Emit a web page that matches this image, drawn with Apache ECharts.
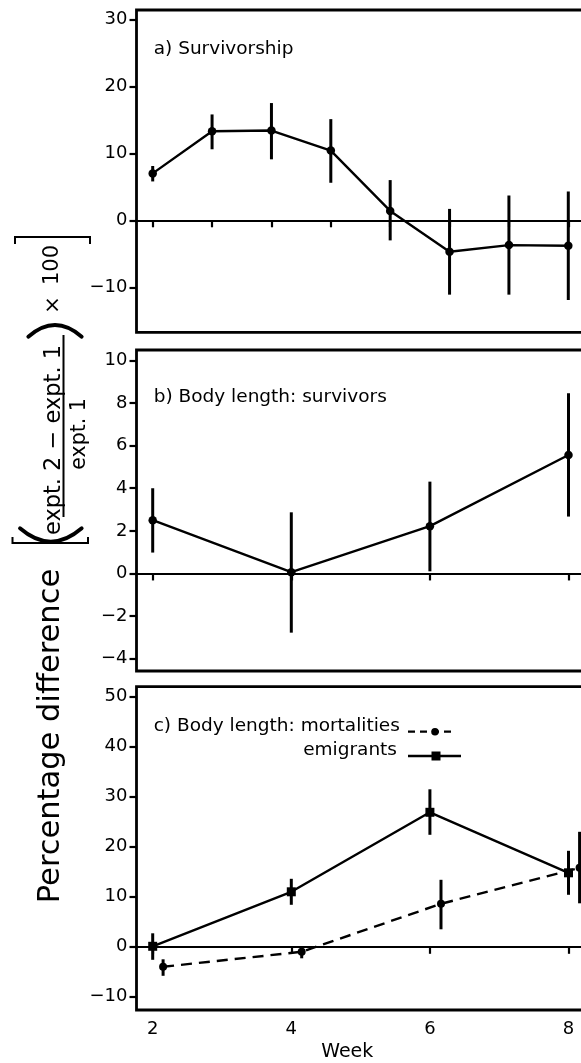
<!DOCTYPE html>
<html><head><meta charset="utf-8">
<script src="https://cdn.jsdelivr.net/npm/echarts@6/dist/echarts.min.js"></script>
<style>html,body{margin:0;padding:0;background:#fff}#c{width:581px;height:1063px}</style>
</head><body><div id="c"></div>
<script>
// ---- Panel a: survivorship (8 sampling occasions between weeks 2 and 8)
const survIndex = [1, 2, 3, 4, 5, 6, 7, 8];
const survMean  = [7.0, 13.3, 13.4, 10.4, 1.4, -4.7, -3.7, -3.8];
const survLow   = [5.8, 10.6, 9.1, 5.6, -3.0, -11.1, -11.1, -11.9];
const survHigh  = [8.1, 15.8, 17.5, 15.1, 6.0, 1.7, 3.7, 4.3];
// ---- Panel b: body length of survivors
const survivorWeeks = [2, 4, 6, 8];
const survivorMean  = [2.5, 0.06, 2.22, 5.56];
const survivorLow   = [0.98, -2.78, 0.10, 2.67];
const survivorHigh  = [4.0, 2.87, 4.31, 8.46];
// ---- Panel c: body length of emigrants and mortalities
const emigrantWeeks = [2, 4, 6, 8];
const emigrantMean  = [0.1, 11.0, 26.9, 14.8];
const emigrantLow   = [-2.6, 8.4, 22.4, 10.4];
const emigrantHigh  = [2.7, 13.6, 31.5, 19.2];
const mortalityWeeks = [2.15, 4.15, 6.16, 8.16];
const mortalityMean  = [-4.0, -1.0, 8.6, 15.8];
const mortalityLow   = [-5.8, -2.3, 3.5, 8.7];
const mortalityHigh  = [-2.5, -0.3, 13.4, 23.0];
// ---- Tick values
const weekTicks = [2, 4, 6, 8];
const yTicksA = [-10, 0, 10, 20, 30];
const yTicksB = [-4, -2, 0, 2, 4, 6, 8, 10];
const yTicksC = [-10, 0, 10, 20, 30, 40, 50];

const FONT = 'DejaVu Sans';
const fmt = v => (v < 0 ? '\u2212' + Math.abs(v) : String(v));

function gridCfg(top, height) {
  return { left: 136.5, width: 464.5, top: top, height: height, show: true,
    borderColor: '#000', borderWidth: 2.8, backgroundColor: 'transparent',
    containLabel: false, outerBoundsMode: 'none' };
}
function xCfg(gi, min, max, ticks, showLabels) {
  const o = { gridIndex: gi, type: 'value', min: min, max: max,
    axisLine: { show: false }, splitLine: { show: false },
    axisTick: { show: true, length: 7, lineStyle: { color: '#000', width: 2.2 }, customValues: ticks },
    axisLabel: { show: !!showLabels, customValues: ticks, color: '#000', fontFamily: FONT, fontSize: 18, margin: 10,
      formatter: v => String(v) } };
  if (showLabels) {
    o.name = 'Week'; o.nameLocation = 'middle'; o.nameGap = 33;
    o.nameTextStyle = { fontFamily: FONT, fontSize: 19, color: '#000', padding: [0, 43, 0, 0] };
  }
  return o;
}
function yCfg(gi, min, max, ticks) {
  return { gridIndex: gi, type: 'value', min: min, max: max,
    axisLine: { show: false }, splitLine: { show: false },
    axisTick: { show: true, length: 7, lineStyle: { color: '#000', width: 2.2 }, customValues: ticks },
    axisLabel: { customValues: ticks, color: '#000', fontFamily: FONT, fontSize: 18, margin: 9, formatter: fmt } };
}
function errRender(params, api) {
  const x = api.value(0);
  const lo = api.coord([x, api.value(1)]);
  const hi = api.coord([x, api.value(2)]);
  return { type: 'line', shape: { x1: lo[0], y1: lo[1], x2: hi[0], y2: hi[1] },
    style: { stroke: '#000', lineWidth: 3 } };
}
function errSeries(gi, xs, lows, highs) {
  return { type: 'custom', xAxisIndex: gi, yAxisIndex: gi, renderItem: errRender,
    encode: { x: 0, y: [1, 2] }, z: 4, silent: true,
    data: xs.map((x, i) => [x, lows[i], highs[i]]) };
}
const zeroLine = { silent: true, symbol: ['none', 'none'], label: { show: false },
  lineStyle: { color: '#000', width: 2.2, type: 'solid' }, data: [{ yAxis: 0 }], animation: false };
function lineSeries(gi, name, xs, ys, opts) {
  return Object.assign({ type: 'line', name: name, xAxisIndex: gi, yAxisIndex: gi,
    data: xs.map((x, i) => [x, ys[i]]), symbol: 'circle', symbolSize: 8.5,
    itemStyle: { color: '#000' }, lineStyle: { color: '#000', width: 2.4 }, z: 3, silent: true }, opts || {});
}

const txt = (t, x, y, size, align, rot) => ({ type: 'text', x: x, y: y, rotation: rot || 0, silent: true,
  style: { text: t, font: size + 'px "' + FONT + '"', fill: '#000',
    align: align || 'left', verticalAlign: 'middle', textAlign: align || 'left', textVerticalAlign: 'middle' } });
const R = Math.PI / 2;

const option = {
  animation: false,
  backgroundColor: '#fff',
  grid: [gridCfg(10, 322.3), gridCfg(350, 321), gridCfg(686.7, 323.3)],
  xAxis: [
    xCfg(0, 0.7271, 8.5509, survIndex, false),
    xCfg(1, 1.7662, 8.4689, weekTicks, false),
    xCfg(2, 1.7662, 8.4689, weekTicks, true)
  ],
  yAxis: [
    yCfg(0, -16.72, 31.39, yTicksA),
    yCfg(1, -4.58, 10.49, yTicksB),
    yCfg(2, -12.64, 52.02, yTicksC)
  ],
  series: [
    lineSeries(0, 'survivorship', survIndex, survMean, { markLine: zeroLine }),
    errSeries(0, survIndex, survLow, survHigh),
    lineSeries(1, 'survivors', survivorWeeks, survivorMean, { markLine: zeroLine }),
    errSeries(1, survivorWeeks, survivorLow, survivorHigh),
    lineSeries(2, 'emigrants', emigrantWeeks, emigrantMean, { symbol: 'rect', symbolSize: 9, markLine: zeroLine }),
    errSeries(2, emigrantWeeks, emigrantLow, emigrantHigh),
    lineSeries(2, 'mortalities', mortalityWeeks, mortalityMean, { symbolSize: 8,
      lineStyle: { color: '#000', width: 2.4, type: [11, 7] } }),
    errSeries(2, mortalityWeeks, mortalityLow, mortalityHigh)
  ],
  graphic: [
    txt('a) Survivorship', 153.7, 49.5, 18.5),
    txt('b) Body length: survivors', 153.7, 397.5, 18.5),
    txt('c) Body length: mortalities', 153.7, 725.7, 18.5),
    txt('emigrants', 397, 750.5, 18.5, 'right'),
    { type: 'line', silent: true, shape: { x1: 408, y1: 731.7, x2: 456, y2: 731.7 },
      style: { stroke: '#000', lineWidth: 2.2, lineDash: [7, 5] } },
    { type: 'circle', silent: true, shape: { cx: 435, cy: 731.7, r: 3.8 }, style: { fill: '#000' } },
    { type: 'line', silent: true, shape: { x1: 408, y1: 756, x2: 461, y2: 756 },
      style: { stroke: '#000', lineWidth: 2.4 } },
    { type: 'rect', silent: true, shape: { x: 431.5, y: 751.5, width: 9, height: 9 }, style: { fill: '#000' } },
    // y-axis title block (rotated)
    txt('Percentage difference', 51, 736, 30.5, 'center', R),
    { type: 'polyline', silent: true, shape: { points: [[12.5, 537], [12.5, 543], [88, 543], [88, 537]] },
      style: { stroke: '#000', lineWidth: 2, fill: null } },
    { type: 'bezierCurve', silent: true, shape: { x1: 20, y1: 528.3, x2: 81.7, y2: 528.3, cpx1: 50.8, cpy1: 555 },
      style: { stroke: '#000', lineWidth: 3.8, fill: null, lineCap: 'round' } },
    txt('expt. 2 \u2212 expt. 1', 54, 440, 22.5, 'center', R),
    { type: 'line', silent: true, shape: { x1: 63.5, y1: 335, x2: 63.5, y2: 517 },
      style: { stroke: '#000', lineWidth: 2 } },
    txt('expt. 1', 80, 434, 20.5, 'center', R),
    { type: 'bezierCurve', silent: true, shape: { x1: 28.3, y1: 336.7, x2: 81.7, y2: 336.7, cpx1: 55, cpy1: 313.3 },
      style: { stroke: '#000', lineWidth: 3.8, fill: null, lineCap: 'round' } },
    txt('\u00d7', 54, 305, 21, 'center', R),
    txt('100', 53, 265, 21, 'center', R),
    { type: 'polyline', silent: true, shape: { points: [[15, 244], [15, 237], [90, 237], [90, 244]] },
      style: { stroke: '#000', lineWidth: 2, fill: null } }
  ]
};
const chart = echarts.init(document.getElementById('c'), null, { renderer: 'canvas' });
chart.setOption(option);
</script>
</body></html>
